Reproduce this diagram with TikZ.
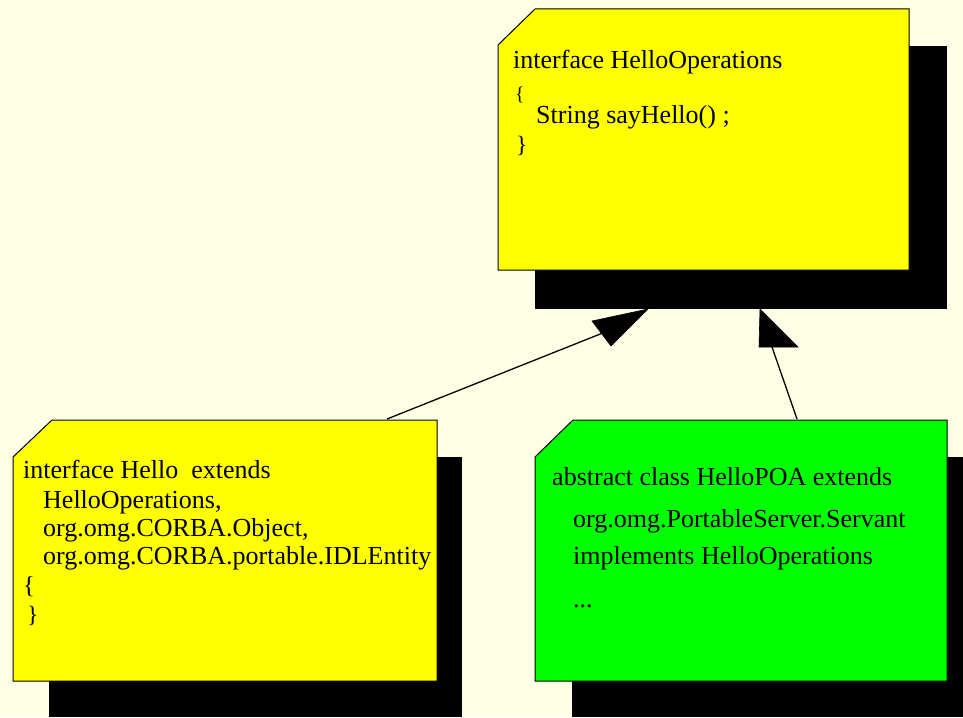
\documentclass[tikz,border=0pt]{standalone}
\usepackage{fontspec}
\setmainfont{Liberation Serif}
\definecolor{bgcream}{HTML}{FFFFE6}
\definecolor{noteyellow}{HTML}{FFFF00}
\definecolor{notegreen}{HTML}{00FF00}
\tikzset{
  shadowbox/.style={fill=black, draw=none},
  notebox/.style={draw=black, line width=1pt, line join=miter},
  codeline/.style={anchor=base west, inner sep=0pt, font=\fontsize{26}{30}\selectfont},
  link/.style={draw=black, line width=1.3pt},
  headfill/.style={fill=black, draw=black, line width=0.6pt, line join=miter},
}
\begin{document}
\begin{tikzpicture}[x=1pt, y=-1pt]
  % page background
  \fill[bgcream] (0,0) rectangle (963,717);
  \useasboundingbox (0,0) rectangle (963,717);

  % ---- interface HelloOperations ----
  \fill[shadowbox] (535,46) rectangle (947,309);
  \filldraw[notebox, fill=noteyellow] (498,45) -- (535,9) -- (909,9) -- (909,270) -- (498,270) -- cycle;
  \node[codeline] (ops1) at (513,68) {interface HelloOperations};
  \node[codeline, font=\fontsize{19.5}{22}\selectfont] (ops2) at (515,100) {\{};
  \node[codeline] (ops3) at (536,123) {String sayHello() ;};
  \node[codeline, font=\fontsize{23.5}{26}\selectfont] (ops4) at (516,152.5) {\}};

  % ---- interface Hello ----
  \fill[shadowbox] (49,457) rectangle (462,717);
  \filldraw[notebox, fill=noteyellow] (13,457) -- (52,420) -- (437,420) -- (437,681) -- (13,681) -- cycle;
  \node[codeline] (hel1) at (23,478) {interface Hello\ \ extends};
  \node[codeline] (hel2) at (43,508) {HelloOperations,};
  \node[codeline] (hel3) at (43,536) {org.omg.CORBA.Object,};
  \node[codeline] (hel4) at (43,564) {org.omg.CORBA.portable.IDLEntity};
  \node[codeline, font=\fontsize{24.6}{28}\selectfont] (hel5) at (23,593) {\{};
  \node[codeline, font=\fontsize{23.5}{26}\selectfont] (hel6) at (27,622.5) {\}};

  % ---- abstract class HelloPOA ----
  \fill[shadowbox] (572,457) rectangle (963,717);
  \filldraw[notebox, fill=notegreen] (535,457) -- (573,420) -- (947,420) -- (947,681) -- (535,681) -- cycle;
  \node[codeline] (poa1) at (552,485) {abstract class HelloPOA extends};
  \node[codeline] (poa2) at (573,527) {org.omg.PortableServer.Servant};
  \node[codeline] (poa3) at (573,564) {implements HelloOperations};
  \node[codeline] (poa4) at (573,607) {...};

  % ---- generalisation links ----
  \coordinate (helloTop) at (387,419);
  \coordinate (leftBase) at (601.5,333.5);
  \coordinate (leftTip) at (648,309);
  \coordinate (poaTop) at (797,419);
  \coordinate (rightBase) at (772,347);
  \coordinate (rightTip) at (760,309);

  \draw[link] (helloTop) -- (leftBase);
  \filldraw[headfill] (leftTip) -- (592,321) -- (611,346) -- cycle;

  \draw[link] (poaTop) -- (rightBase);
  \filldraw[headfill] (rightTip) -- (759,347) -- (798,347) -- cycle;
\end{tikzpicture}
\end{document}
